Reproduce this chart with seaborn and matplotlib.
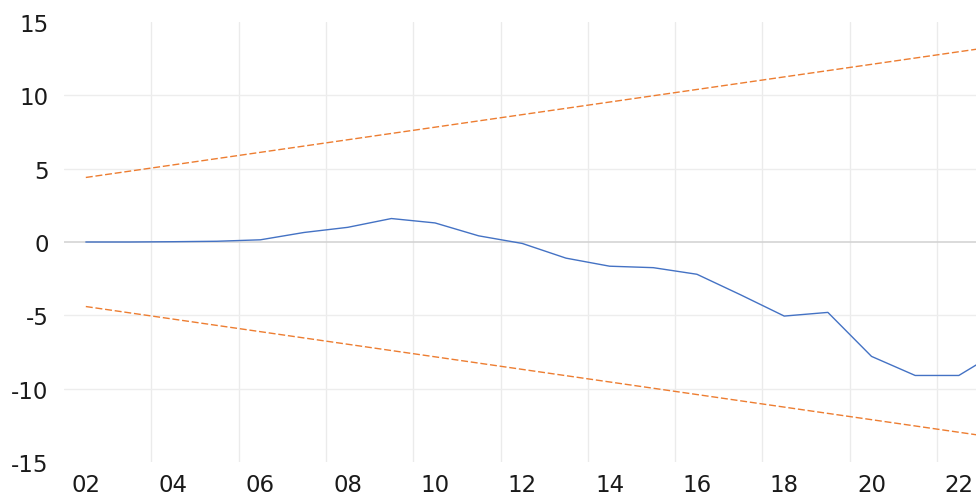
import pandas as pd
import numpy as np
import matplotlib
matplotlib.use('Agg')
import matplotlib.pyplot as plt
import seaborn as sns

# ==================== Data ====================
years = [2002, 2003, 2004, 2005, 2006, 2007, 2008, 2009, 2010, 2011, 2012,
         2013, 2014, 2015, 2016, 2017, 2018, 2019, 2020, 2021, 2022, 2023]
cusum = [0.0, 0.0, 0.02, 0.05, 0.15, 0.65, 1.0, 1.6, 1.3, 0.42, -0.1,
         -1.1, -1.65, -1.75, -2.2, -3.6, -5.05, -4.8, -7.8, -9.1, -9.1, -7.3]

# 5% significance bounds (straight lines, end points only)
bound_years = [2002, 2023]
upper_bound = [4.4, 13.4]
lower_bound = [-4.4, -13.4]

tick_years = [2002, 2004, 2006, 2008, 2010, 2012, 2014, 2016, 2018, 2020, 2022]
tick_labels = ['02', '04', '06', '08', '10', '12', '14', '16', '18', '20', '22']
y_ticks = [-15, -10, -5, 0, 5, 10, 15]

df_line = pd.DataFrame({'year': years, 'value': cusum})
df_bounds = pd.DataFrame({'year': bound_years, 'upper': upper_bound, 'lower': lower_bound})

# ==================== Style ====================
sns.set_style('white')
plt.rcParams['font.family'] = ['DejaVu Sans']
plt.rcParams['axes.unicode_minus'] = False

fig = plt.figure(figsize=(9.76, 5.02), dpi=100)
ax = fig.add_axes([64 / 976, 39 / 502, 912 / 976, 440 / 502])

blue = '#4472C4'
orange = '#ED7D31'

# gridlines: light vertical between-year lines, horizontal at 5-steps
for x in np.arange(2003.5, 2022, 2):
    ax.axvline(x, color='#ebebeb', lw=1.0, zorder=0)
for y in [-10, -5, 5, 10]:
    ax.axhline(y, color='#ededed', lw=1.0, zorder=0)
ax.axhline(0, color='#d4d4d4', lw=1.2, zorder=0)

sns.lineplot(data=df_bounds, x='year', y='upper', ax=ax, color=orange,
             lw=1.0, zorder=3).lines[-1].set_dashes((5, 2))
sns.lineplot(data=df_bounds, x='year', y='lower', ax=ax, color=orange,
             lw=1.0, zorder=3).lines[-1].set_dashes((5, 2))
sns.lineplot(data=df_line, x='year', y='value', ax=ax, color=blue, lw=1.0, zorder=4)

ax.set_xlim(2001.5, 2001.5 + 912 / 43.65)
ax.set_ylim(-15, 15)
ax.set_xticks(tick_years)
ax.set_xticklabels(tick_labels)
ax.set_yticks(y_ticks)
ax.set_yticklabels([str(v) for v in y_ticks])
ax.tick_params(axis='both', length=0, labelsize=16.5, labelcolor='#1a1a1a')
ax.tick_params(axis='x', pad=8)
ax.tick_params(axis='y', pad=11)
ax.set_xlabel('')
ax.set_ylabel('')
for s in ax.spines.values():
    s.set_visible(False)

fig.savefig('out.png', dpi=100)
